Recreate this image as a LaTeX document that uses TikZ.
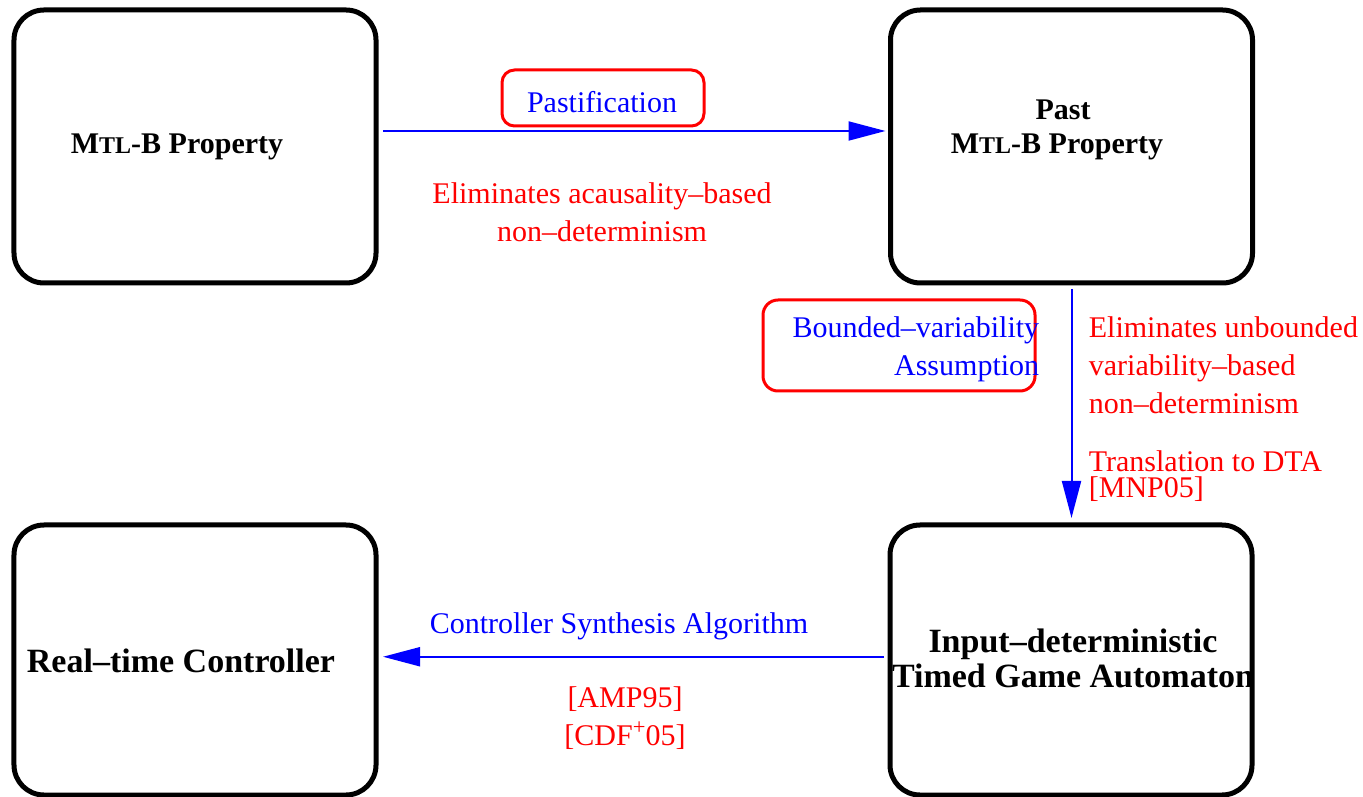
\documentclass[tikz,border=0pt]{standalone}
\usepackage{fontspec}
\setmainfont{Liberation Serif}
\usetikzlibrary{arrows.meta}
\definecolor{lblred}{RGB}{255,0,0}
\definecolor{lblblue}{RGB}{0,0,255}
\newcommand\mtlname{M{\fontsize{9.6}{10}\selectfont TL}}
\newcommand\suplus{\raisebox{0.36em}{\fontsize{9}{9}\selectfont +}}
\tikzset{
  stage/.style={draw, line width=2pt, rounded corners=12pt, inner sep=0pt,
                minimum width=144.8pt},
  topstage/.style={stage, minimum height=109.2pt},
  lowstage/.style={stage, minimum height=108pt},
  frame/.style={draw=lblred, line width=1.2pt, inner sep=0pt},
  flow/.style={draw=lblblue, line width=0.8pt,
               -{Triangle[length=14.8pt,width=7.6pt]}},
  smalltitle/.style={font=\fontsize{12}{13.8}\selectfont\bfseries, align=center, anchor=base},
  bigtitle/.style={font=\fontsize{13.6}{14}\selectfont\bfseries, align=center, anchor=base},
  bluelbl/.style={text=lblblue, font=\fontsize{12}{15.2}\selectfont},
  redlbl/.style={text=lblred, font=\fontsize{12}{15.2}\selectfont},
}
\begin{document}
\begin{tikzpicture}[x=0.4pt, y=-0.4pt]
\useasboundingbox (0,0) rectangle (1363,797);

% the four stages
\node[topstage] (mtl)  at (195,146.5) {};
\node[topstage] (past) at (1071.5,146.5) {};
\node[lowstage] (rt)   at (195,660) {};
\node[lowstage] (inp)  at (1071,660) {};

% stage titles (multi-line nodes sit on the baseline of their last line)
\node[smalltitle] (mtlt)  at (177,154) {\mtlname-B Property};
\node[smalltitle] (pastt) at (1057,154) {\hspace*{4.8pt}Past\\\mtlname-B Property};
\node[bigtitle]   (rtt)   at (181,672) {Real–time Controller};
\node[bigtitle]   (inpt)  at (1073,687) {Input–deterministic\\Timed Game Automaton};

% red frames around the assumptions
\node[frame, rounded corners=5pt, minimum width=80.8pt, minimum height=22.4pt] (pfr) at (603,98) {};
\node[frame, rounded corners=6pt, minimum width=108.8pt, minimum height=36.4pt] (bfr) at (899,345.5) {};

% transformations
\draw[flow, shorten <=1.8pt, shorten >=1pt]
  ([yshift=6.2pt]mtl.east) -- ([yshift=6.2pt]past.west);
\draw[flow, shorten <=1.4pt, shorten >=1.8pt]
  (past.south) -- (past.south |- inp.north);
\draw[flow, shorten <=1.4pt, shorten >=1.8pt]
  ([yshift=1.3pt]inp.west) -- ([yshift=1.3pt]inp.west -| rt.east);

% labels of the transformations
\node[bluelbl, anchor=base] (pastif) at (602,113) {Pastification};
\node[redlbl, anchor=base, align=center] (acaus) at (602,242)
  {Eliminates acausality–based\\non–determinism};
\node[bluelbl, anchor=base east, align=right] (bva) at (1048,376)
  {Bounded–variability\\Assumption};
\node[redlbl, anchor=base west, align=left] (unb) at (1080,414)
  {Eliminates unbounded\\variability–based\\non–determinism};
\node[redlbl, font=\fontsize{12}{10.4}\selectfont, anchor=base west, align=left] (dta) at (1080,497)
  {Translation to DTA\\{}[MNP05]};
\node[bluelbl, anchor=base] (csa) at (619,633) {Controller Synthesis Algorithm};
\node[redlbl, anchor=base, align=center] (refs) at (625,745)
  {[AMP95]\\{}[CDF\suplus05]};
\end{tikzpicture}
\end{document}
